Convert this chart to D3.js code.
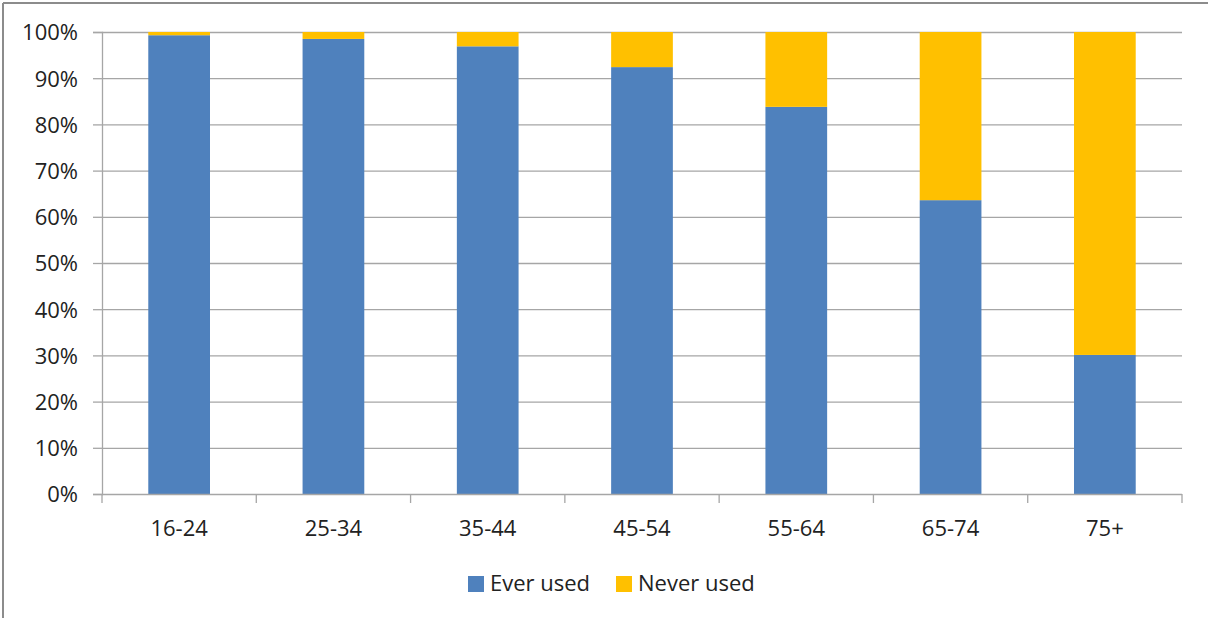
<!DOCTYPE html>
<html>
<head>
<meta charset="utf-8">
<script src="https://cdn.jsdelivr.net/npm/d3@7"></script>
<style>
  html, body { margin: 0; padding: 0; background: #fff; }
  svg { display: block; }
  text { font-family: "Open Sans", "DejaVu Sans", sans-serif; fill: #222; }
</style>
</head>
<body>
<svg id="chart" width="1208" height="618"></svg>
<script>
// Age groups and share of people who have ever used / never used (percent)
const categories = ["16-24", "25-34", "35-44", "45-54", "55-64", "65-74", "75+"];
const everUsed  = [99.3, 98.5, 96.9, 92.4, 83.8, 63.6, 30.1];
const neverUsed = everUsed.map(v => 100 - v);
const seriesNames = ["Ever used", "Never used"];
const seriesColors = ["#4F81BD", "#FFC000"];
const yTicks = [0, 10, 20, 30, 40, 50, 60, 70, 80, 90, 100];

const svg = d3.select("#chart");
const W = 1208, H = 618;
const plot = { left: 102, right: 1182, top: 32, bottom: 494 };

// Outer frame (top and left edges)
svg.append("line").attr("x1", 3).attr("x2", W).attr("y1", 3).attr("y2", 3)
  .attr("stroke", "#8c8c8c").attr("stroke-width", 2);
svg.append("line").attr("x1", 3).attr("x2", 3).attr("y1", 3).attr("y2", H)
  .attr("stroke", "#8c8c8c").attr("stroke-width", 2);

const x = d3.scaleBand().domain(categories)
  .range([plot.left, plot.right]).paddingInner(0.6).paddingOuter(0.3);
const xEdge = d3.scaleBand().domain(categories).range([plot.left, plot.right]);
const y = d3.scaleLinear().domain([0, 100]).range([plot.bottom, plot.top]);

// Horizontal gridlines
svg.append("g").selectAll("line").data(yTicks.filter(t => t > 0)).join("line")
  .attr("x1", plot.left).attr("x2", plot.right)
  .attr("y1", d => y(d) + 0.5).attr("y2", d => y(d) + 0.5)
  .attr("stroke", "#a6a6a6").attr("stroke-width", 1.3);

// Stacked bars
const rows = categories.map((c, i) => ({ cat: c, "Ever used": everUsed[i], "Never used": neverUsed[i] }));
const stacked = d3.stack().keys(seriesNames)(rows);
svg.append("g").selectAll("g").data(stacked).join("g")
  .attr("fill", (d, i) => seriesColors[i])
  .selectAll("rect").data(d => d).join("rect")
  .attr("x", d => x(d.data.cat))
  .attr("width", x.bandwidth())
  .attr("y", d => y(d[1]))
  .attr("height", d => y(d[0]) - y(d[1]));

// Y axis
const yAxis = svg.append("g").attr("transform", `translate(${plot.left},0)`)
  .call(d3.axisLeft(y).tickValues(yTicks).tickFormat(d => d + "%").tickSize(9).tickPadding(15));
yAxis.select(".domain").attr("stroke", "#a6a6a6").attr("stroke-width", 1.3);
yAxis.selectAll(".tick line").attr("stroke", "#a6a6a6").attr("stroke-width", 1.3);
yAxis.selectAll(".tick text")
  .style("font-family", '"Open Sans", sans-serif').style("font-size", "22px")
  .attr("fill", "#222").attr("dy", "0.36em");

// X axis: baseline with ticks at category boundaries
const gx = svg.append("g");
gx.append("line").attr("x1", plot.left).attr("x2", plot.right)
  .attr("y1", plot.bottom + 0.5).attr("y2", plot.bottom + 0.5)
  .attr("stroke", "#a6a6a6").attr("stroke-width", 1.3);
const edges = categories.map(c => xEdge(c)).concat([plot.right]);
gx.selectAll("line.tick").data(edges).join("line").attr("class", "tick")
  .attr("x1", d => d).attr("x2", d => d)
  .attr("y1", plot.bottom).attr("y2", plot.bottom + 9)
  .attr("stroke", "#a6a6a6").attr("stroke-width", 1.3);
gx.selectAll("text").data(categories).join("text")
  .attr("x", d => xEdge(d) + xEdge.bandwidth() / 2)
  .attr("y", 536)
  .attr("text-anchor", "middle")
  .style("font-size", "22px")
  .text(d => d);

// Legend
const legendItems = [
  { name: seriesNames[0], color: seriesColors[0], sx: 468, tx: 490 },
  { name: seriesNames[1], color: seriesColors[1], sx: 616, tx: 638 }
];
const lg = svg.append("g");
lg.selectAll("rect").data(legendItems).join("rect")
  .attr("x", d => d.sx).attr("y", 576).attr("width", 16).attr("height", 16)
  .attr("fill", d => d.color);
lg.selectAll("text").data(legendItems).join("text")
  .attr("x", d => d.tx).attr("y", 591)
  .style("font-size", "22px")
  .text(d => d.name);
</script>
</body>
</html>
